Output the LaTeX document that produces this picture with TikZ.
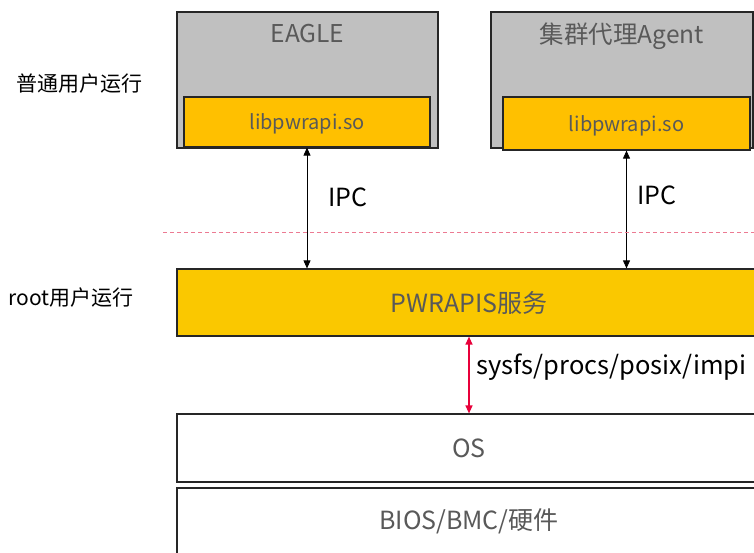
\documentclass[tikz,border=0pt]{standalone}
\usepackage{fontspec}
\setmainfont{Noto Sans CJK SC}
\usetikzlibrary{arrows.meta}
\definecolor{boxgray}{HTML}{C0C0C0}
\definecolor{libyellow}{HTML}{FFC000}
\definecolor{svcyellow}{HTML}{FAC800}
\definecolor{textgray}{HTML}{595959}
\definecolor{linered}{HTML}{E8003A}
\definecolor{dashpink}{HTML}{EC7A92}
\tikzset{
layer/.style={
	draw=black!85, line width=1.2pt, rectangle, inner sep=0pt,
	text=textgray, font=\fontsize{25}{28}\selectfont},
app/.style={layer, fill=boxgray, minimum height=136pt},
lib/.style={layer, fill=libyellow, minimum width=246pt, minimum height=50pt,
	font=\fontsize{20}{24}\selectfont},
side/.style={anchor=west, font=\fontsize{21}{24}\selectfont}
}

\begin{document}
\begin{tikzpicture}[x=1pt, y=-1pt, ipc/.style={{Triangle[length=8pt,width=7pt]}-{Triangle[length=8pt,width=7pt]}, line width=0.8pt}]
	\clip (0,0) rectangle (754,552);
	\fill[white] (0,0) rectangle (754,552);
	% top row
	\node[app, minimum width=261pt, label={[anchor=north, yshift=-9pt, text=textgray, font=\fontsize{24.5}{28}\selectfont]north:EAGLE}] (eagle) at (307.5,80) {};
	\node[app, minimum width=262pt, label={[anchor=north, yshift=-8pt, text=textgray, font=\fontsize{24.5}{28}\selectfont]north:集群代理Agent}] (agent) at (622,80) {};
	\node[lib, text depth=-2pt] (lib1) at (307,122) {libpwrapi.so};
	\node[lib, text depth=-2pt, minimum width=247pt, minimum height=53pt] (lib2) at (626.5,123.5) {libpwrapi.so};
	% layers
	\node[layer, fill=svcyellow, minimum width=584pt, minimum height=67pt] (pwr) at (469,302.5) {PWRAPIS服务};
	\node[layer, fill=white, minimum width=584pt, minimum height=68pt] (os) at (469,448) {OS};
	\node[layer, fill=white, minimum width=584pt, minimum height=66pt] (bios) at (469,521) {BIOS/BMC/硬件};
	% connections
	\draw[ipc] (lib1.south) -- (lib1.south |- pwr.north);
	\draw[ipc] (lib2.south) -- (lib2.south |- pwr.north);
	\draw[ipc, draw=linered, fill=linered, line width=1.3pt] (pwr.south) -- (os.north);
	\node[side, font=\fontsize{25}{28}\selectfont] (ipc1) at (325,197) {IPC};
	\node[side, font=\fontsize{25}{28}\selectfont] (ipc2) at (634,195) {IPC};
	\node[side, font=\fontsize{25.5}{28}\selectfont] (sys) at (473,367) {sysfs/procs/posix/impi};
	\draw[dashpink, dashed, dash pattern=on 4pt off 3pt, line width=0.8pt] (163,232) -- (754,232);
	% user levels
	\node[side] (user) at (13,84) {普通用户运行};
	\node[side] (root) at (5,298) {root用户运行};
\end{tikzpicture}
\end{document}
